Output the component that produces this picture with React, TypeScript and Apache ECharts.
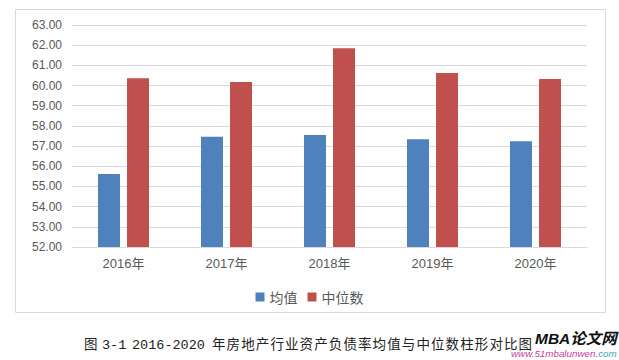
import React, { useEffect, useRef } from "react";
import * as echarts from "echarts";

const categories = ["2016年", "2017年", "2018年", "2019年", "2020年"];
const meanValues = [55.62, 57.46, 57.55, 57.34, 57.24];
const medianValues = [60.36, 60.18, 61.85, 60.62, 60.33];
const seriesNames = ["均值", "中位数"];
const captionLabel = "图";
const captionNumber = "3-1";
const captionYears = "2016-2020";
const captionText = "年房地产行业资产负债率均值与中位数柱形对比图";

export default function App() {
  const ref = useRef<HTMLDivElement>(null);
  useEffect(() => {
    if (!ref.current) return;
    const chart = echarts.init(ref.current, undefined, { renderer: "svg" });
    const capStyle = {
      fontSize: 13.5,
      fontFamily: "Liberation Mono, Noto Sans CJK SC",
      fill: "#222222",
      verticalAlign: "middle",
    };
    const captionChars = Array.from(captionText).map((ch, i) => ({
      type: "text",
      x: 212 + i * 14.6,
      y: 345,
      silent: true,
      style: { ...capStyle, text: ch },
    }));
    chart.setOption({
      animation: false,
      backgroundColor: "#ffffff",
      grid: { left: 72, right: 32, top: 25, bottom: 113 },
      legend: {
        data: seriesNames,
        top: 285,
        left: "center",
        itemWidth: 9,
        itemHeight: 9,
        itemGap: 10,
        icon: "rect",
        textStyle: { fontSize: 14, color: "#595959", fontFamily: "Noto Sans CJK SC" },
      },
      xAxis: {
        type: "category",
        data: categories,
        axisLine: { lineStyle: { color: "#d9d9d9" } },
        axisTick: { show: false },
        axisLabel: { color: "#595959", fontSize: 13, margin: 10, fontFamily: "Liberation Sans, Noto Sans CJK SC" },
      },
      yAxis: {
        type: "value",
        min: 52,
        max: 63,
        interval: 1,
        axisLine: { show: false },
        axisTick: { show: false },
        splitLine: { lineStyle: { color: "#d9d9d9" } },
        axisLabel: {
          color: "#595959",
          fontSize: 12,
          margin: 10,
          fontFamily: "Liberation Sans",
          formatter: (v: number) => v.toFixed(2),
        },
      },
      series: [
        {
          name: seriesNames[0],
          type: "bar",
          data: meanValues,
          barWidth: 22,
          barGap: "32%",
          itemStyle: { color: "#4f81bd" },
        },
        {
          name: seriesNames[1],
          type: "bar",
          data: medianValues,
          barWidth: 22,
          barGap: "32%",
          itemStyle: { color: "#c0504d" },
        },
      ],
      graphic: [
        {
          type: "rect",
          shape: { x: 15.5, y: 9.5, width: 590, height: 303 },
          style: { fill: "none", stroke: "#d9d9d9", lineWidth: 1 },
          silent: true,
        },
        { type: "text", x: 84, y: 345, silent: true, style: { ...capStyle, text: captionLabel } },
        { type: "text", x: 102, y: 345, silent: true, style: { ...capStyle, text: captionNumber } },
        { type: "text", x: 132, y: 345, silent: true, style: { ...capStyle, text: captionYears } },
        ...captionChars,
        {
          type: "text",
          x: 535,
          y: 338,
          silent: true,
          style: {
            text: "MBA论文网",
            fontSize: 15.5,
            fontWeight: "bold",
            fontStyle: "italic",
            fontFamily: "Liberation Sans, Noto Sans CJK SC",
            fill: "#111111",
            verticalAlign: "middle",
          },
        },
        {
          type: "text",
          x: 511,
          y: 353,
          silent: true,
          style: {
            text: "{a|www.51mbalunwen.}{b|com}",
            verticalAlign: "middle",
            rich: {
              a: { fontSize: 9.8, fontStyle: "italic", fontFamily: "Liberation Sans", fill: "#c8409a" },
              b: { fontSize: 9.8, fontStyle: "italic", fontFamily: "Liberation Sans", fill: "#3aa6b8" },
            },
          },
        },
      ],
    });
    return () => chart.dispose();
  }, []);
  return (
    <div
      ref={ref}
      style={{ position: "absolute", left: 0, top: 0, width: 619, height: 360 }}
    />
  );
}
